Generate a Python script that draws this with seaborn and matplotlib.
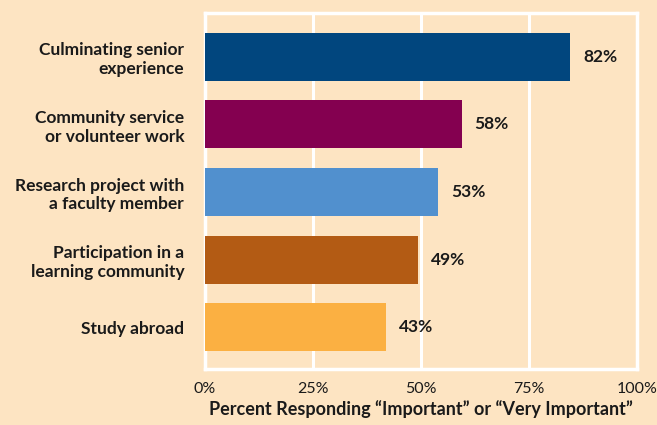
import matplotlib
matplotlib.use("Agg")
import matplotlib.pyplot as plt
import seaborn as sns
import pandas as pd

categories = ["Culminating senior\nexperience",
              "Community service\nor volunteer work",
              "Research project with\na faculty member",
              "Participation in a\nlearning community",
              "Study abroad"]
# bar lengths as drawn in the picture (percent)
bar_values = [84.6, 59.4, 54.0, 49.4, 41.9]
# labels as printed next to the bars
value_labels = ["82%", "58%", "53%", "49%", "43%"]
x_ticks = [0, 25, 50, 75, 100]
x_tick_labels = ["0%", "25%", "50%", "75%", "100%"]
x_title = "Percent Responding \u201cImportant\u201d or \u201cVery Important\u201d"
colors = ["#01467E", "#840050", "#5190CE", "#B35B14", "#FBB042"]

bg = "#FDE4C2"
sns.set_theme(style="white")
plt.rcParams["font.family"] = ["Lato", "DejaVu Sans"]

df = pd.DataFrame({"category": categories, "value": bar_values})

fig = plt.figure(figsize=(6.57, 4.25), dpi=100, facecolor=bg)
ax = fig.add_axes([0.312, 0.1318, 0.6576, 0.8376])
ax.set_facecolor(bg)

sns.barplot(data=df, x="value", y="category", hue="category",
            palette=colors, orient="h", width=0.71, legend=False,
            saturation=1, linewidth=0, ax=ax, zorder=3)

ax.set_xlim(0, 100)
ax.set_ylim(4.62, -0.65)
ax.set_xticks(x_ticks)
ax.set_xticklabels(x_tick_labels, fontsize=11.5, color="#1a1a1a")
ax.tick_params(axis="both", length=0)
ax.tick_params(axis="x", pad=9.5)
ax.tick_params(axis="y", pad=15)
for lbl in ax.get_yticklabels():
    lbl.set_fontweight("bold")
    lbl.set_fontsize(12.5)
    lbl.set_linespacing(1.2)
    lbl.set_color("#1a1a1a")

ax.grid(axis="x", color="white", linewidth=2.2, zorder=1)
ax.grid(axis="y", visible=False)
for s in ax.spines.values():
    s.set_visible(True)
    s.set_color("white")
    s.set_linewidth(2.5)

ax.set_ylabel("")
ax.set_xlabel(x_title, fontsize=13, fontweight="bold", labelpad=3,
              color="#1a1a1a")

for i, (v, t) in enumerate(zip(bar_values, value_labels)):
    ax.annotate(t, xy=(v, i), xytext=(9, 0), textcoords="offset points",
                ha="left", va="center", fontsize=12.5, fontweight="bold",
                color="#1a1a1a")

fig.savefig("out.png", dpi=100, facecolor=bg)
